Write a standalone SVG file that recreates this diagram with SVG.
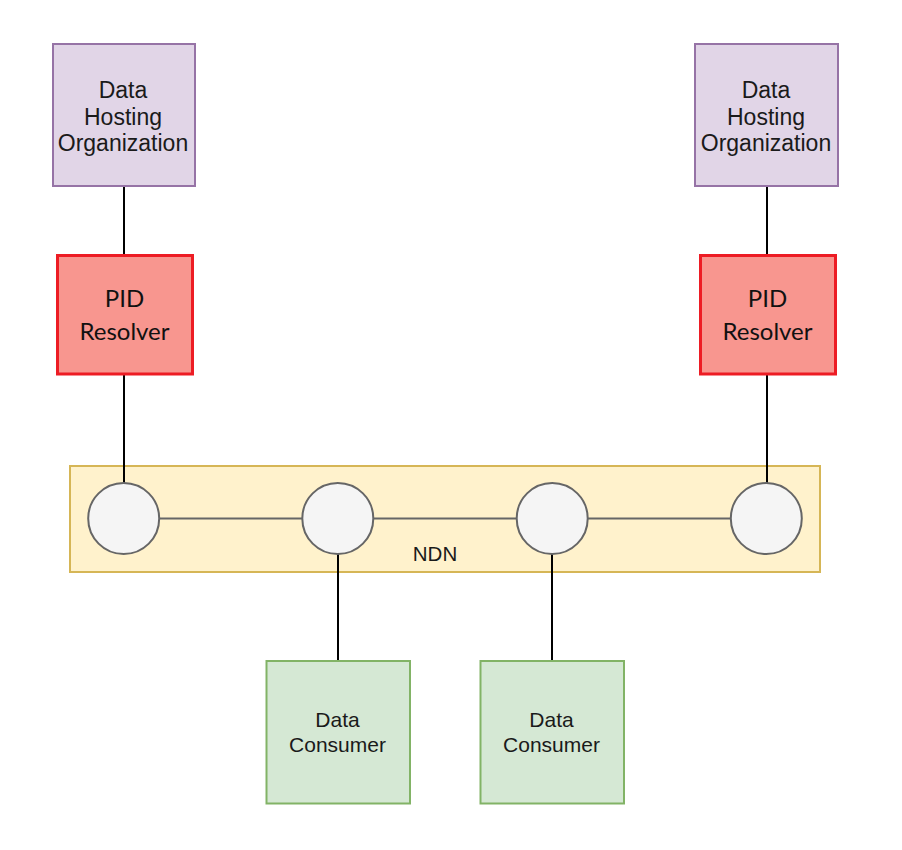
<svg xmlns="http://www.w3.org/2000/svg" width="902" height="850" viewBox="0 0 902 850">
<style>
.dho{fill:#e1d5e7;stroke:#9673a6;stroke-width:2}
.pid{fill:#f8968f;stroke:#ed1c24;stroke-width:3}
.con{fill:#d5e8d4;stroke:#82b366;stroke-width:2}
.ndn{fill:#fff2cc;stroke:#d6b656;stroke-width:2}
.node{fill:#f5f5f5;stroke:#666666;stroke-width:2}
.t{font-family:"Liberation Sans",Arial,sans-serif;fill:#1a1a1a;text-anchor:middle}
.tp{font-family:Lato,"Liberation Sans",sans-serif;fill:#111;text-anchor:middle;font-size:24px}
.v{stroke:#000;stroke-width:2;fill:none}
.h{stroke:#666666;stroke-width:2;fill:none}
</style>
<rect width="902" height="850" fill="#fff"/>
<g id="ndn-area">
<rect class="ndn" x="70" y="466" width="750" height="106"/>
<text class="t" x="435" y="561" font-size="20.5">NDN</text>
</g>
<g id="connectors">
<line class="v" x1="124" y1="186" x2="124" y2="255"/>
<line class="v" x1="767" y1="186" x2="767" y2="255"/>
<line class="v" x1="124" y1="374" x2="124" y2="483"/>
<line class="v" x1="767" y1="374" x2="767" y2="483"/>
<line class="v" x1="338" y1="554" x2="338" y2="661"/>
<line class="v" x1="552" y1="554" x2="552" y2="661"/>
<line class="h" x1="159.5" y1="518.5" x2="302" y2="518.5"/>
<line class="h" x1="373.5" y1="518.5" x2="516.5" y2="518.5"/>
<line class="h" x1="588" y1="518.5" x2="730.5" y2="518.5"/>
</g>
<g id="dho-left">
<rect class="dho" x="53" y="44" width="142" height="142"/>
<text class="t" font-size="23"><tspan x="123" y="98">Data</tspan><tspan x="123" y="125">Hosting</tspan><tspan x="123" y="151">Organization</tspan></text>
</g>
<g id="dho-right">
<rect class="dho" x="695" y="44" width="143" height="142"/>
<text class="t" font-size="23"><tspan x="766" y="98">Data</tspan><tspan x="766" y="125">Hosting</tspan><tspan x="766" y="151">Organization</tspan></text>
</g>
<g id="pid-left">
<rect class="pid" x="57.5" y="255.5" width="135" height="118.5"/>
<text class="tp"><tspan x="124.5" y="307">PID</tspan><tspan x="124.5" y="340">Resolver</tspan></text>
</g>
<g id="pid-right">
<rect class="pid" x="700.5" y="255.5" width="135" height="118.5"/>
<text class="tp"><tspan x="767.5" y="307">PID</tspan><tspan x="767.5" y="340">Resolver</tspan></text>
</g>
<g id="node1"><circle class="node" cx="123.7" cy="518.5" r="35.5"/></g>
<g id="node2"><circle class="node" cx="337.8" cy="518.5" r="35.5"/></g>
<g id="node3"><circle class="node" cx="552.2" cy="518.5" r="35.5"/></g>
<g id="node4"><circle class="node" cx="766.3" cy="518.5" r="35.5"/></g>
<g id="consumer-1">
<rect class="con" x="266.5" y="661" width="143.5" height="142.5"/>
<text class="t" font-size="21"><tspan x="337.5" y="727">Data</tspan><tspan x="337.5" y="752">Consumer</tspan></text>
</g>
<g id="consumer-2">
<rect class="con" x="480.5" y="661" width="143.5" height="142.5"/>
<text class="t" font-size="21"><tspan x="551.5" y="727">Data</tspan><tspan x="551.5" y="752">Consumer</tspan></text>
</g>
</svg>
